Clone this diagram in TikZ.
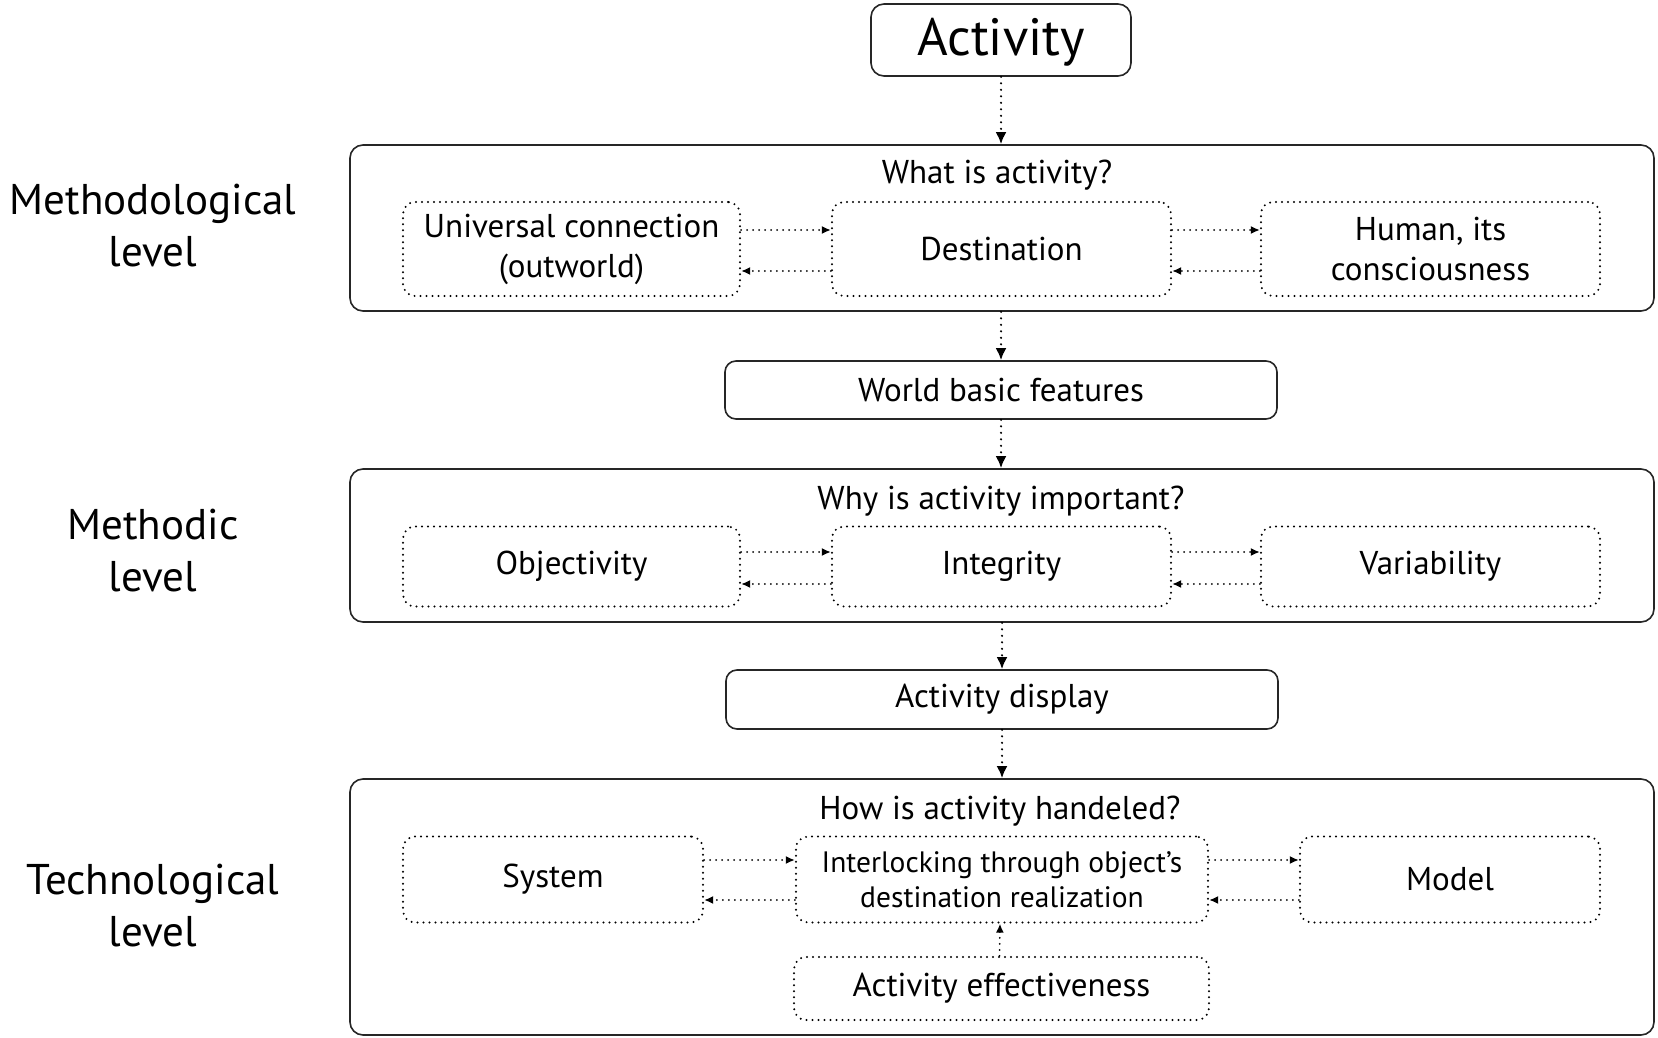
\documentclass[tikz,border=0pt]{standalone}
\usepackage{fontspec}
\setmainfont{PT Sans}
\usetikzlibrary{arrows.meta}
\tikzset{
  bigbox/.style={draw=black!85, line width=1.6pt, rounded corners=13pt, inner sep=0pt},
  midbox/.style={draw=black!85, line width=1.6pt, rounded corners=11pt, inner sep=0pt, font=\fontsize{33}{40}\selectfont},
  dotbox/.style={draw=black, line width=2.2pt, dash pattern=on 0pt off 6pt, line cap=round, rounded corners=12pt, inner sep=0pt, align=center, font=\fontsize{33}{40}\selectfont},
  lbl/.style={align=center, font=\fontsize{33}{40}\selectfont, inner sep=0pt},
  side/.style={align=center, font=\fontsize{43}{52}\selectfont, inner sep=0pt},
  varr/.style={line width=2.4pt, dash pattern=on 0pt off 6.5pt, line cap=round, -{Latex[length=12pt,width=11pt]}},
  harr/.style={line width=2pt, dash pattern=on 0pt off 6pt, line cap=round, -{Latex[length=9pt,width=8pt]}},
}
\begin{document}
\begin{tikzpicture}[x=1pt,y=-1pt]
\useasboundingbox (0,0) rectangle (1658,1038);
% top
\node[draw=black!85, line width=1.6pt, rounded corners=13pt, minimum width=260pt, minimum height=72pt, font=\fontsize{52.5}{60}\selectfont, inner sep=0pt, text height=40pt, text depth=9pt] (act) at (1001,40) {Activity};
% side labels
\node[side] (l1) at (153,226) {Methodological\\level};
\node[side] (l2) at (153,551) {Methodic\\level};
\node[side] (l3) at (153,906) {Technological\\level};
% box 1
\node[bigbox, minimum width=1304pt, minimum height=166pt] (b1) at (1002,228) {};
\node[lbl] (t1) at (997,175) {What is activity?};
\node[dotbox, minimum width=337pt, minimum height=94pt] (u) at (571.5,249) {Universal connection\\(outworld)};
\node[dotbox, minimum width=339pt, minimum height=94pt] (d) at (1001.5,249) {Destination};
\node[dotbox, minimum width=339pt, minimum height=94pt] (h) at (1430.5,249) {Human, its\\consciousness};
\draw[harr] ([yshift=19pt]u.east) -- ([yshift=19pt]d.west);
\draw[harr] ([yshift=-22pt]d.west) -- ([yshift=-22pt]u.east);
\draw[harr] ([yshift=19pt]d.east) -- ([yshift=19pt]h.west);
\draw[harr] ([yshift=-22pt]h.west) -- ([yshift=-22pt]d.east);
% world
\node[midbox, minimum width=552pt, minimum height=58pt] (w) at (1001,390) {World basic features};
% box 2
\node[bigbox, minimum width=1304pt, minimum height=153pt] (b2) at (1002,545.5) {};
\node[lbl] (t2) at (1001,501) {Why is activity important?};
\node[dotbox, minimum width=337pt, minimum height=80pt] (o) at (571.5,566.5) {\raisebox{0pt}{Objectivity}};
\node[dotbox, minimum width=339pt, minimum height=80pt] (i) at (1001.5,566.5) {Integrity};
\node[dotbox, minimum width=339pt, minimum height=80pt] (v) at (1430.5,566.5) {Variability};
\draw[harr] ([yshift=14.5pt]o.east) -- ([yshift=14.5pt]i.west);
\draw[harr] ([yshift=-17.5pt]i.west) -- ([yshift=-17.5pt]o.east);
\draw[harr] ([yshift=14.5pt]i.east) -- ([yshift=14.5pt]v.west);
\draw[harr] ([yshift=-17.5pt]v.west) -- ([yshift=-17.5pt]i.east);
% display
\node[midbox, minimum width=552pt, minimum height=59pt] (ad) at (1002,699.5) {Activity display};
% box 3
\node[bigbox, minimum width=1304pt, minimum height=256pt] (b3) at (1002,907) {};
\node[lbl] (t3) at (1000,811) {How is activity handeled?};
\node[dotbox, minimum width=300pt, minimum height=86pt] (s) at (553,879.5) {System};
\node[dotbox, minimum width=412pt, minimum height=86pt, font=\fontsize{29.5}{35}\selectfont] (il) at (1002,879.5) {Interlocking through object’s\\destination realization};
\node[dotbox, minimum width=300pt, minimum height=86pt] (m) at (1450,879.5) {Model};
\node[dotbox, minimum width=415pt, minimum height=63pt] (ae) at (1001.5,988.5) {Activity effectiveness};
\draw[harr] ([yshift=19.5pt]s.east) -- ([yshift=19.5pt]il.west);
\draw[harr] ([yshift=-20.5pt]il.west) -- ([yshift=-20.5pt]s.east);
\draw[harr] ([yshift=19.5pt]il.east) -- ([yshift=19.5pt]m.west);
\draw[harr] ([yshift=-20.5pt]m.west) -- ([yshift=-20.5pt]il.east);
\draw[harr] ([xshift=-2pt]ae.north) -- ([xshift=-2pt]il.south);
% vertical
\draw[varr] (act.south) -- (act.south |- b1.north);
\draw[varr] (b1.south -| w.north) -- (w.north);
\draw[varr] (w.south) -- (w.south |- b2.north);
\draw[varr] (b2.south -| ad.north) -- (ad.north);
\draw[varr] (ad.south) -- (ad.south |- b3.north);
\end{tikzpicture}
\end{document}
